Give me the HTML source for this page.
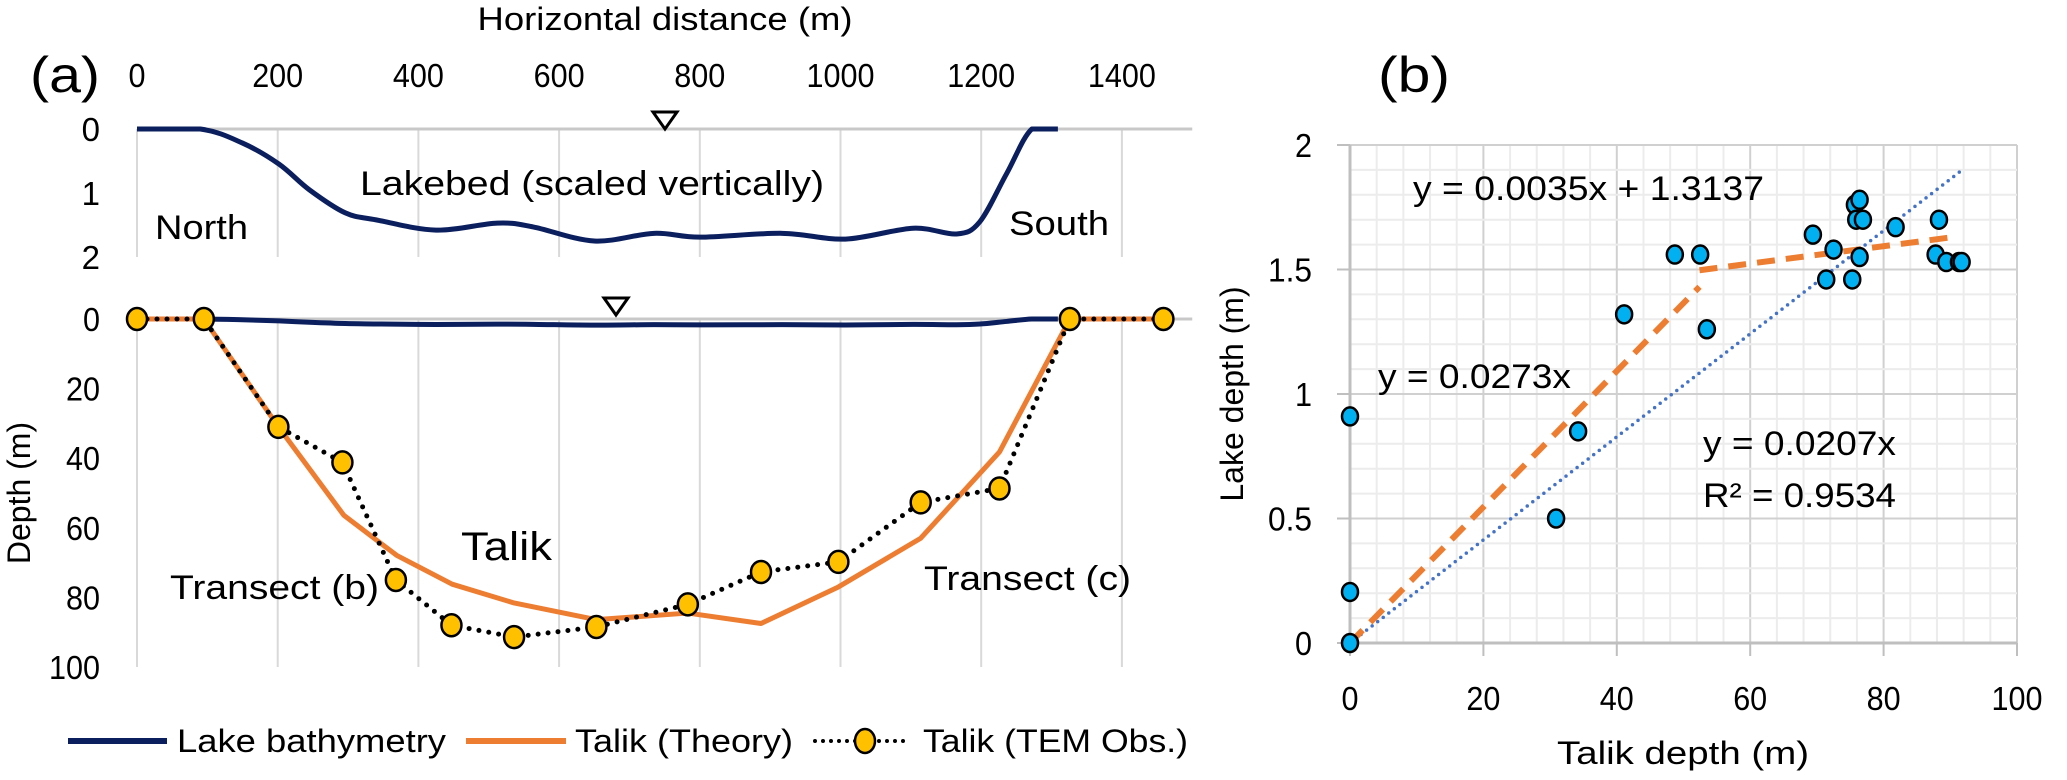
<!DOCTYPE html>
<html><head><meta charset="utf-8">
<style>
html,body{margin:0;padding:0;background:#fff;}
svg{display:block;font-family:"Liberation Sans",sans-serif;}
</style></head>
<body>
<svg id="fig" width="2067" height="780" viewBox="0 0 2067 780" xmlns="http://www.w3.org/2000/svg">
<g id="gL"></g>
<g id="gR"></g>
</svg>
<script>
// ---------- Panel (a) data ----------
const bathyDist = [0,90,150,202,245,296,340,425,512,563,650,735,800,917,1007,1103,1165,1198,1236,1272,1309];
const bathyDepth = [0,0,0.22,0.55,0.95,1.31,1.42,1.58,1.47,1.53,1.75,1.63,1.69,1.63,1.72,1.55,1.64,1.45,0.70,0,0];
const temDist = [0,95,201,292,368,447,536,653,783,887,997,1114,1226,1326,1459];
const temDepth = [0,0,31,41.2,75,88,91.4,88.5,82,72.7,69.8,52.7,48.7,0,0];
const theoryDist = [0,95,201,294,369,448,536,653,783,887,997,1114,1226,1326,1459];
const theoryDepth = [0,0,31,56.4,67.9,76.2,81.6,86.4,84.5,87.5,77,63,38.2,0,0];
const xTicksA = [0,200,400,600,800,1000,1200,1400];
const topYTicks = [0,1,2];
const botYTicks = [0,20,40,60,80,100];
// ---------- Panel (b) data ----------
const talikX = [0,0,0,30.9,34.2,41.1,48.7,52.5,53.5,69.4,71.4,72.5,75.3,75.7,76.4,75.9,76.9,76.4,81.8,88.3,87.8,89.4,91.3,91.7];
const lakeY = [0,0.205,0.91,0.50,0.85,1.32,1.56,1.56,1.26,1.64,1.46,1.58,1.46,1.76,1.78,1.70,1.70,1.55,1.67,1.70,1.56,1.53,1.53,1.53];
const xTicksB = [0,20,40,60,80,100];
const yTicksB = [0,0.5,1,1.5,2];
const fitAll = [0.0207, 0, 91.5];
const fitLow = [0.0273, 0, 52.4];
const fitHigh = [0.0035, 1.3137, 52.4, 90.5];

const NS='http://www.w3.org/2000/svg';
function mk(parent, tag, attrs, text){
  const e=document.createElementNS(NS,tag);
  for(const k in attrs) e.setAttribute(k,attrs[k]);
  if(text!==undefined) e.textContent=text;
  parent.appendChild(e); return e;
}
function smoothPath(pts, minY){
  const cl = y => Math.max(y, minY);
  let d='M'+pts[0][0]+','+pts[0][1];
  for(let i=0;i<pts.length-1;i++){
    const p0=pts[Math.max(0,i-1)],p1=pts[i],p2=pts[i+1],p3=pts[Math.min(pts.length-1,i+2)];
    const c1=[p1[0]+(p2[0]-p0[0])/6,cl(p1[1]+(p2[1]-p0[1])/6)];
    const c2=[p2[0]-(p3[0]-p1[0])/6,cl(p2[1]-(p3[1]-p1[1])/6)];
    d+=' C'+c1[0]+','+c1[1]+' '+c2[0]+','+c2[1]+' '+p2[0]+','+p2[1];
  }
  return d;
}
const gL=document.getElementById('gL');
const gR=document.getElementById('gR');

// ---------- Panel (a) axes ----------
const xA = m => 137 + m*0.7035;
const yTop = d => 129 + d*64;
const yBot = d => 319 + d*3.48;
const xMaxA = 1500;

let t;
t=mk(gL,'text',{x:665,y:30,'text-anchor':'middle','font-size':32,textLength:375,lengthAdjust:'spacingAndGlyphs'},'Horizontal distance (m)');
 
t=mk(gL,'text',{x:30,y:92,'font-size':50,textLength:70,lengthAdjust:'spacingAndGlyphs'},'(a)');
 

for(const v of xTicksA){
  const tl=mk(gL,'text',{x:xA(v),y:87,'text-anchor':'middle','font-size':33,textLength:String(v).length*17,lengthAdjust:'spacingAndGlyphs'},String(v));
   
  const g1=mk(gL,'line',{x1:xA(v),x2:xA(v),y1:yTop(0),y2:yTop(2),stroke:'#d9d9d9','stroke-width':2});
   
  const g2=mk(gL,'line',{x1:xA(v),x2:xA(v),y1:yBot(0),y2:yBot(100),stroke:'#d9d9d9','stroke-width':2});
   
}
let ax=mk(gL,'line',{x1:xA(0),x2:xA(xMaxA),y1:yTop(0),y2:yTop(0),stroke:'#c8c8c8','stroke-width':3});
 
ax=mk(gL,'line',{x1:xA(0),x2:xA(xMaxA),y1:yBot(0),y2:yBot(0),stroke:'#c8c8c8','stroke-width':3});
 

for(const v of topYTicks){
  const tl=mk(gL,'text',{x:100,y:yTop(v)+12,'text-anchor':'end','font-size':33},String(v));
   
}
for(const v of botYTicks){
  const tl=mk(gL,'text',{x:100,y:yBot(v)+12,'text-anchor':'end','font-size':33,textLength:String(v).length*17,lengthAdjust:'spacingAndGlyphs'},String(v));
   
}
t=mk(gL,'text',{x:0,y:0,'text-anchor':'middle','font-size':32,transform:'translate(30,493) rotate(-90)'},'Depth (m)');
 

// annotations
t=mk(gL,'text',{x:360,y:195,'font-size':34,textLength:464,lengthAdjust:'spacingAndGlyphs'},'Lakebed (scaled vertically)');
 
t=mk(gL,'text',{x:155,y:239,'font-size':34,textLength:93,lengthAdjust:'spacingAndGlyphs'},'North');
 
t=mk(gL,'text',{x:1009,y:235,'font-size':34,textLength:100,lengthAdjust:'spacingAndGlyphs'},'South');
 
t=mk(gL,'text',{x:461,y:560,'font-size':40,textLength:91,lengthAdjust:'spacingAndGlyphs'},'Talik');
 
t=mk(gL,'text',{x:170,y:599,'font-size':34,textLength:209,lengthAdjust:'spacingAndGlyphs'},'Transect (b)');
 
t=mk(gL,'text',{x:924,y:590,'font-size':34,textLength:207,lengthAdjust:'spacingAndGlyphs'},'Transect (c)');
 
let tri=mk(gL,'polygon',{points:'653,112 677,112 665,129',fill:'#fff',stroke:'#000','stroke-width':3});
 
tri=mk(gL,'polygon',{points:'604,298 628,298 616,315',fill:'#fff',stroke:'#000','stroke-width':3});
 

// bathymetry lines
const topPts=bathyDist.map((m,i)=>[xA(m),yTop(bathyDepth[i])]);
let p=mk(gL,'path',{d:smoothPath(topPts, yTop(0)),fill:'none',stroke:'#0b1f5e','stroke-width':5,'stroke-linejoin':'round'});
 
const botPts=bathyDist.map((m,i)=>[xA(m),yBot(bathyDepth[i])]);
p=mk(gL,'path',{d:smoothPath(botPts, yBot(0)),fill:'none',stroke:'#0b1f5e','stroke-width':5});
 

// theory
p=mk(gL,'polyline',{points:theoryDist.map((m,i)=>xA(m)+','+yBot(theoryDepth[i])).join(' '),fill:'none',stroke:'#ed7d31','stroke-width':5,'stroke-linejoin':'round'});
 
// TEM obs
p=mk(gL,'polyline',{points:temDist.map((m,i)=>xA(m)+','+yBot(temDepth[i])).join(' '),fill:'none',stroke:'#000','stroke-width':5,'stroke-dasharray':'0 10','stroke-linecap':'round'});
 
for(let i=0;i<temDist.length;i++){
  const cx=xA(temDist[i]), cy=yBot(temDepth[i]);
  const eb=mk(gL,'path',{d:`M${cx-6},${yBot(temDepth[i]-2.5)}H${cx+6}M${cx},${yBot(temDepth[i]-2.5)}V${yBot(temDepth[i]+2.5)}M${cx-6},${yBot(temDepth[i]+2.5)}H${cx+6}`,stroke:'#555','stroke-width':3,fill:'none'});
   
  const c=mk(gL,'ellipse',{cx:cx,cy:cy,rx:10,ry:11,fill:'#ffc000',stroke:'#000','stroke-width':2.5});
   
}

// legend
let lg=mk(gL,'g',{});
 
let le=mk(lg,'line',{x1:68,x2:167,y1:741,y2:741,stroke:'#0b1f5e','stroke-width':6});
 
t=mk(lg,'text',{x:177,y:752,'font-size':32,textLength:269,lengthAdjust:'spacingAndGlyphs'},'Lake bathymetry');
 
le=mk(lg,'line',{x1:466,x2:566,y1:741,y2:741,stroke:'#ed7d31','stroke-width':6});
 
t=mk(lg,'text',{x:575,y:752,'font-size':32,textLength:218,lengthAdjust:'spacingAndGlyphs'},'Talik (Theory)');
 
le=mk(lg,'line',{x1:815,x2:907,y1:741,y2:741,stroke:'#000','stroke-width':4,'stroke-dasharray':'0 8','stroke-linecap':'round'});
 
le=mk(lg,'ellipse',{cx:865,cy:741,rx:10,ry:12,fill:'#ffc000',stroke:'#000','stroke-width':2.5});
 
t=mk(lg,'text',{x:923,y:752,'font-size':32,textLength:265,lengthAdjust:'spacingAndGlyphs'},'Talik (TEM Obs.)');
 

// ---------- Panel (b) ----------
const xB = v => 1350 + v*6.67;
const yB = v => 643 - v*249;
t=mk(gR,'text',{x:1378,y:92,'font-size':50,textLength:72,lengthAdjust:'spacingAndGlyphs'},'(b)');
 
for(let k=0;k<=25;k++){
  const v=k*4;
  const major = v%20===0;
  const gl=mk(gR,'line',{x1:xB(v),x2:xB(v),y1:yB(2),y2:yB(0),stroke:major?'#d0d0d0':'#ececec','stroke-width':2});
   
}
for(let k=0;k<=20;k++){
  const v=k/10;
  const major = k%5===0;
  const gl=mk(gR,'line',{x1:xB(0),x2:xB(100),y1:yB(v),y2:yB(v),stroke:major?'#d0d0d0':'#ececec','stroke-width':2});
   
}
ax=mk(gR,'line',{x1:xB(0),x2:xB(100),y1:yB(0),y2:yB(0),stroke:'#bfbfbf','stroke-width':3});
 
ax=mk(gR,'line',{x1:xB(0),x2:xB(0),y1:yB(0),y2:yB(2),stroke:'#bfbfbf','stroke-width':3});
 
for(const v of xTicksB){
  const tk=mk(gR,'line',{x1:xB(v),x2:xB(v),y1:yB(0),y2:yB(0)+13,stroke:'#bfbfbf','stroke-width':2});
   
  const tl=mk(gR,'text',{x:xB(v),y:710,'text-anchor':'middle','font-size':33,textLength:String(v).length*17,lengthAdjust:'spacingAndGlyphs'},String(v));
   
}
for(const v of yTicksB){
  const tk=mk(gR,'line',{x1:xB(0)-13,x2:xB(0),y1:yB(v),y2:yB(v),stroke:'#bfbfbf','stroke-width':2});
   
  const s=String(v);
  const tl=mk(gR,'text',{x:1312,y:yB(v)+12,'text-anchor':'end','font-size':33,textLength:s.length===1?17:44,lengthAdjust:'spacingAndGlyphs'},s);
   
}
t=mk(gR,'text',{x:1683,y:764,'text-anchor':'middle','font-size':32,textLength:252,lengthAdjust:'spacingAndGlyphs'},'Talik depth (m)');
 
t=mk(gR,'text',{x:0,y:0,'text-anchor':'middle','font-size':32,transform:'translate(1243,394) rotate(-90)'},'Lake depth (m)');
 

// trend lines
p=mk(gR,'line',{x1:xB(0),y1:yB(fitAll[1]),x2:xB(fitAll[2]),y2:yB(fitAll[0]*fitAll[2]+fitAll[1]),stroke:'#4472c4','stroke-width':3.5,'stroke-dasharray':'0 7','stroke-linecap':'round'});
 
p=mk(gR,'line',{x1:xB(0),y1:yB(fitLow[1]),x2:xB(fitLow[2]),y2:yB(fitLow[0]*fitLow[2]+fitLow[1]),stroke:'#ed7d31','stroke-width':6,'stroke-dasharray':'18 11'});
 
p=mk(gR,'line',{x1:xB(fitHigh[2]),y1:yB(fitHigh[0]*fitHigh[2]+fitHigh[1]),x2:xB(fitHigh[3]),y2:yB(fitHigh[0]*fitHigh[3]+fitHigh[1]),stroke:'#ed7d31','stroke-width':6,'stroke-dasharray':'18 11'});
 

for(let i=0;i<talikX.length;i++){
  const c=mk(gR,'ellipse',{cx:xB(talikX[i]),cy:yB(lakeY[i]),rx:8,ry:9,fill:'#00b0f0',stroke:'#000','stroke-width':2.5});
   
}
t=mk(gR,'text',{x:1413,y:200,'font-size':34,textLength:351,lengthAdjust:'spacingAndGlyphs'},'y = 0.0035x + 1.3137');
 
t=mk(gR,'text',{x:1378,y:388,'font-size':34,textLength:193,lengthAdjust:'spacingAndGlyphs'},'y = 0.0273x');
 
t=mk(gR,'text',{x:1703,y:455,'font-size':34,textLength:193,lengthAdjust:'spacingAndGlyphs'},'y = 0.0207x');
 
t=mk(gR,'text',{x:1703,y:507,'font-size':34,textLength:193,lengthAdjust:'spacingAndGlyphs'},'R² = 0.9534');
 
</script>
</body></html>
